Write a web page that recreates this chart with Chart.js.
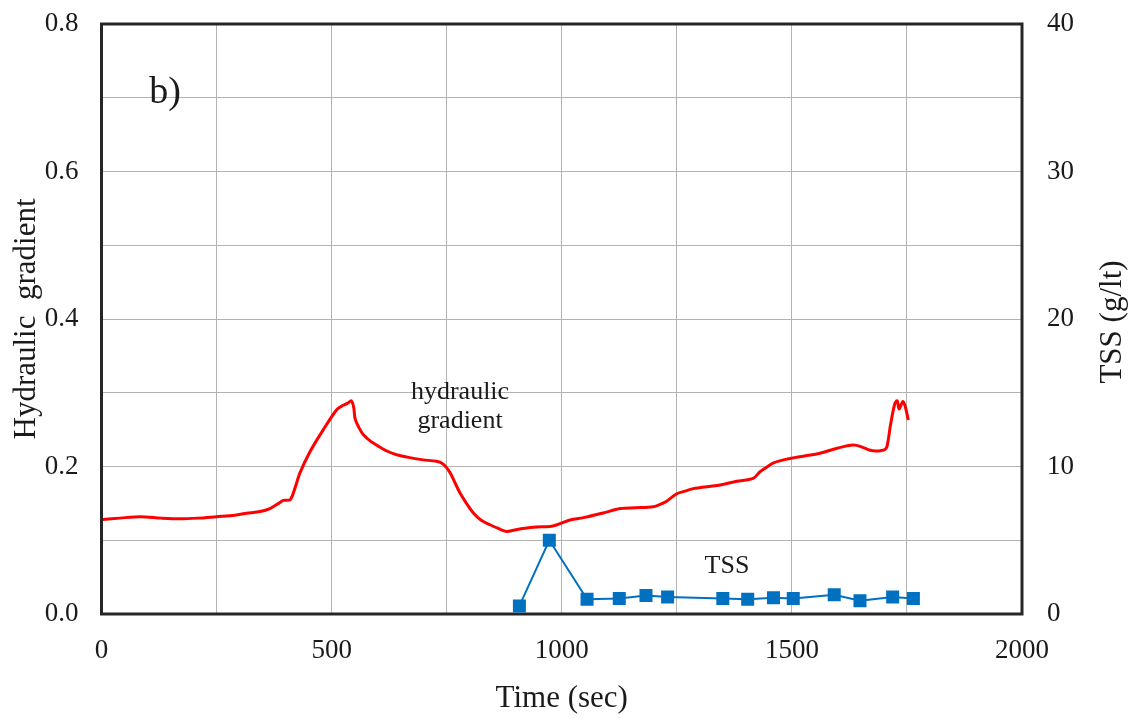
<!DOCTYPE html>
<html>
<head>
<meta charset="utf-8">
<script src="https://cdn.jsdelivr.net/npm/chart.js@4/dist/chart.umd.min.js"></script>
<style>
  html, body { margin: 0; padding: 0; background: #ffffff; }
  #wrap { width: 1135px; height: 719px; position: relative; }
</style>
</head>
<body>
<div id="wrap"><canvas id="c" width="1135" height="719"></canvas></div>
<script>
// Hydraulic gradient record (time in seconds)
const gradTime = [3, 40, 84, 130, 170, 210, 250, 290, 315, 345, 366, 385, 395, 410, 420, 431, 453, 482, 511, 525, 535, 543, 548, 551, 560, 569, 585, 598, 620, 641, 670, 699, 728, 743, 757, 768, 779, 793, 808, 825, 844, 862, 880, 898, 916, 945, 974, 990, 1018, 1050, 1090, 1127, 1160, 1199, 1215, 1228, 1250, 1270, 1286, 1320, 1344, 1380, 1416, 1431, 1445, 1460, 1489, 1525, 1561, 1600, 1633, 1650, 1670, 1684, 1702, 1707, 1715, 1724, 1729, 1733, 1741, 1746, 1753];
const gradValue = [0.128, 0.130, 0.132, 0.130, 0.129, 0.130, 0.132, 0.134, 0.1365, 0.139, 0.143, 0.150, 0.154, 0.155, 0.170, 0.191, 0.220, 0.250, 0.277, 0.283, 0.286, 0.289, 0.280, 0.265, 0.252, 0.243, 0.234, 0.229, 0.221, 0.216, 0.212, 0.209, 0.207, 0.203, 0.192, 0.178, 0.164, 0.150, 0.137, 0.127, 0.121, 0.116, 0.112, 0.114, 0.116, 0.118, 0.1185, 0.121, 0.1275, 0.131, 0.137, 0.143, 0.144, 0.1455, 0.149, 0.153, 0.163, 0.167, 0.170, 0.173, 0.175, 0.180, 0.184, 0.193, 0.199, 0.205, 0.210, 0.214, 0.218, 0.225, 0.229, 0.227, 0.222, 0.221, 0.223, 0.228, 0.259, 0.286, 0.289, 0.278, 0.288, 0.282, 0.263];

// Total suspended solids samples (g/lt)
const tssTime = [908, 973, 1055, 1125, 1183, 1230, 1350, 1404, 1460, 1503, 1592, 1648, 1719, 1764];
const tssValue = [0.55, 5.0, 1.0, 1.05, 1.25, 1.15, 1.05, 1.0, 1.1, 1.05, 1.3, 0.9, 1.15, 1.05];

// Axis ranges and labelled ticks
const timeRange = [0, 2000];
const timeLabels = [0, 500, 1000, 1500, 2000];
const gradRange = [0, 0.8];
const gradLabels = [0.0, 0.2, 0.4, 0.6, 0.8];
const tssRange = [0, 40];
const tssLabels = [0, 10, 20, 30, 40];

const serif = '"Liberation Serif", "Times New Roman", serif';
const ink = '#1a1a1a';

const toPoints = (xs, ys) => xs.map((x, i) => ({ x: x, y: ys[i] }));

// keep the plot rectangle fixed: no extra room reserved for edge labels
const noEdgePadding = s => {
  s.paddingTop = 0; s.paddingBottom = 0; s.paddingLeft = 0; s.paddingRight = 0;
};

// Frame around the plot and text annotations
const framePlugin = {
  id: 'frame',
  beforeDatasetsDraw(chart) {
    const { ctx, chartArea: a } = chart;
    ctx.save();
    ctx.strokeStyle = '#262626';
    ctx.lineWidth = 3;
    ctx.strokeRect(a.left, a.top, a.right - a.left, a.bottom - a.top);
    ctx.restore();
  },
  afterDraw(chart) {
    const { ctx, chartArea: a, scales } = chart;
    const x = scales.x, y = scales.y;
    ctx.save();
    ctx.fillStyle = ink;
    ctx.textAlign = 'center';
    ctx.textBaseline = 'alphabetic';

    ctx.font = '38px ' + serif;
    ctx.fillText('b)', x.getPixelForValue(138), y.getPixelForValue(0.693));

    ctx.font = '26px ' + serif;
    ctx.fillText('hydraulic', x.getPixelForValue(779), y.getPixelForValue(0.2915));
    ctx.fillText('gradient', x.getPixelForValue(779), y.getPixelForValue(0.2522));
    ctx.fillText('TSS', x.getPixelForValue(1359), y.getPixelForValue(0.0556));

    // right-hand axis title, reading upwards
    ctx.font = '31px ' + serif;
    ctx.textBaseline = 'middle';
    ctx.translate(1113, (a.top + a.bottom) / 2 + 3);
    ctx.rotate(-Math.PI / 2);
    ctx.fillText('TSS (g/lt)', 0, 0);
    ctx.restore();
  }
};

new Chart(document.getElementById('c'), {
  type: 'line',
  data: {
    datasets: [
      {
        label: 'hydraulic gradient',
        data: toPoints(gradTime, gradValue),
        yAxisID: 'y',
        borderColor: '#ff0000',
        borderWidth: 3,
        pointRadius: 0,
        tension: 0.3,
        fill: false
      },
      {
        label: 'TSS',
        data: toPoints(tssTime, tssValue),
        yAxisID: 'y2',
        borderColor: '#0070c0',
        backgroundColor: '#0070c0',
        borderWidth: 2,
        pointStyle: 'rect',
        pointRadius: 9.2,
        pointBorderWidth: 0,
        tension: 0,
        fill: false
      }
    ]
  },
  options: {
    responsive: false,
    animation: false,
    events: [],
    layout: { padding: { top: 24, left: 0, right: 0, bottom: 0 } },
    plugins: { legend: { display: false }, tooltip: { enabled: false } },
    scales: {
      x: {
        type: 'linear',
        position: 'bottom',
        min: timeRange[0],
        max: timeRange[1],
        afterFit(s) { s.height = 105; noEdgePadding(s); },
        border: { display: false },
        grid: { color: '#b3b3b3', lineWidth: 1, drawTicks: false },
        ticks: {
          stepSize: 250,
          padding: 21,
          color: ink,
          font: { family: serif, size: 27 },
          maxRotation: 0,
          autoSkip: false,
          callback: v => timeLabels.includes(v) ? String(v) : ''
        },
        title: {
          display: true,
          text: 'Time (sec)',
          color: ink,
          font: { family: serif, size: 31 },
          padding: { top: 0, bottom: 2 }
        }
      },
      y: {
        type: 'linear',
        position: 'left',
        min: gradRange[0],
        max: gradRange[1],
        afterFit(s) { s.width = 101.5; noEdgePadding(s); },
        border: { display: false },
        grid: { color: '#b3b3b3', lineWidth: 1, drawTicks: false },
        ticks: {
          stepSize: 0.1,
          padding: 23,
          color: ink,
          font: { family: serif, size: 27 },
          autoSkip: false,
          callback: v => {
            const r = Math.round(v * 10) / 10;
            return gradLabels.some(g => Math.abs(g - r) < 1e-9) ? r.toFixed(1) : '';
          }
        },
        title: {
          display: true,
          text: 'Hydraulic  gradient',
          color: ink,
          font: { family: serif, size: 31 },
          padding: { top: 8, bottom: 0 }
        }
      },
      y2: {
        type: 'linear',
        position: 'right',
        min: tssRange[0],
        max: tssRange[1],
        afterFit(s) { s.width = 113; noEdgePadding(s); },
        border: { display: false },
        grid: { display: false, drawTicks: false },
        ticks: {
          stepSize: 10,
          padding: 25,
          color: ink,
          font: { family: serif, size: 27 },
          callback: v => tssLabels.includes(v) ? String(v) : ''
        }
      }
    }
  },
  plugins: [framePlugin]
});
</script>
</body>
</html>
